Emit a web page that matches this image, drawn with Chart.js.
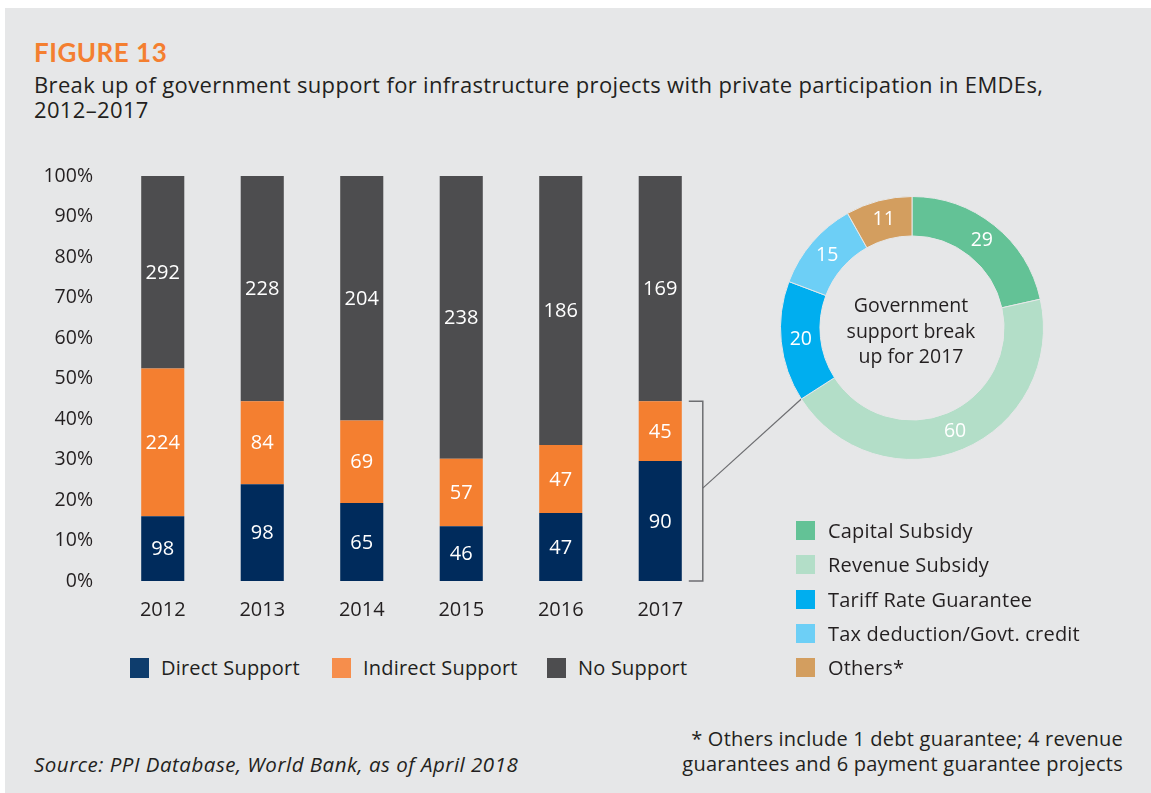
<!DOCTYPE html>
<html>
<head>
<meta charset="utf-8">
<script src="https://cdn.jsdelivr.net/npm/chart.js@4"></script>
<style>
  html, body { margin: 0; padding: 0; background: #fff; }
  body { width: 1151px; height: 793px; position: relative; overflow: hidden; font-family: "Open Sans", Lato, sans-serif; color: #231f20; }
  #panel { position: absolute; left: 5px; top: 8px; width: 1146px; height: 785px; background: #e6e7e8; }
  .abs { position: absolute; white-space: nowrap; }
  #fig { left: 34px; top: 36px; font-family: Lato, sans-serif; font-size: 26px; font-weight: 700; color: #f47f30; letter-spacing: 0.5px; }
  #sub { left: 34px; top: 72px; font-size: 22px; line-height: 25px; letter-spacing: 0.35px; }
  #barCanvas { position: absolute; left: 0; top: 140px; }
  #donutCanvas { position: absolute; left: 780px; top: 196px; }
  #center { left: 811px; top: 292px; width: 200px; text-align: center; font-size: 19.5px; line-height: 25.5px; }
  .leg { position: absolute; font-size: 20px; line-height: 20px; letter-spacing: 0.2px; }
  .leg i { position: absolute; left: 0; top: 0; width: 19px; height: 20px; }
  .leg span { position: absolute; white-space: nowrap; }
  #src { left: 34px; top: 750px; font-size: 20.5px; font-style: italic; letter-spacing: 0.5px; }
  #note { right: 28px; top: 726px; font-size: 20px; line-height: 25px; text-align: right; letter-spacing: 0.23px; }
</style>
</head>
<body>
<div id="panel"></div>
<div class="abs" id="fig">FIGURE 13</div>
<div class="abs" id="sub">Break up of government support for infrastructure projects with private participation in EMDEs,<br>2012–2017</div>
<canvas id="barCanvas" width="830" height="491"></canvas>
<canvas id="donutCanvas" width="264" height="264"></canvas>
<div class="abs" id="center">Government<br>support break<br>up for 2017</div>
<div id="barLegend"></div>
<div id="donutLegend"></div>
<div class="abs" id="src">Source: PPI Database, World Bank, as of April 2018</div>
<div class="abs" id="note">* Others include 1 debt guarantee; 4 revenue<br>guarantees and 6 payment guarantee projects</div>

<script>
// ─── DATA ────────────────────────────────────────────────
const years = ['2012', '2013', '2014', '2015', '2016', '2017'];
const directSupport   = [98, 98, 65, 46, 47, 90];
const indirectSupport = [224, 84, 69, 57, 47, 45];
const noSupport       = [292, 228, 204, 238, 186, 169];
const yTicks = [0, 10, 20, 30, 40, 50, 60, 70, 80, 90, 100];

const supportTypes = ['Capital Subsidy', 'Revenue Subsidy', 'Tariff Rate Guarantee', 'Tax deduction/Govt. credit', 'Others*'];
const support2017  = [29, 60, 20, 15, 11];

// ─── STYLE ───────────────────────────────────────────────
const barColors   = ['#002b5c', '#f47f30', '#4d4d4f'];
const barLegendColors = ['#0e3d6d', '#f68e4c', '#4d4d4f'];
const donutColors = ['#63c296', '#b3dec8', '#00aeef', '#6dcff6', '#d39e5f'];
const txt = '#231f20';
const font = '"Open Sans", Lato, sans-serif';

// share of each year's total, so every bar stacks to 100%
const totals = years.map((_, i) => directSupport[i] + indirectSupport[i] + noSupport[i]);
const share = arr => arr.map((v, i) => v / totals[i] * 100);
const counts = [directSupport, indirectSupport, noSupport];

// ─── DONUT ───────────────────────────────────────────────
const donutLabels = {
  id: 'donutLabels',
  afterDatasetsDraw(chart) {
    const ctx = chart.ctx;
    ctx.save();
    ctx.fillStyle = '#fff';
    ctx.font = '19.5px ' + font;
    ctx.textAlign = 'center';
    ctx.textBaseline = 'middle';
    chart.getDatasetMeta(0).data.forEach((arc, i) => {
      const p = arc.tooltipPosition();
      ctx.fillText(String(support2017[i]), p.x, p.y);
    });
    ctx.restore();
  }
};

const donut = new Chart(document.getElementById('donutCanvas'), {
  type: 'doughnut',
  data: {
    labels: supportTypes,
    datasets: [{
      data: support2017,
      backgroundColor: donutColors,
      borderColor: '#e6e7e8',
      borderWidth: 1
    }]
  },
  options: {
    responsive: false,
    animation: false,
    cutout: '70%',
    plugins: { legend: { display: false }, tooltip: { enabled: false } }
  },
  plugins: [donutLabels]
});

// ─── BAR ─────────────────────────────────────────────────
const barExtras = {
  id: 'barExtras',
  afterDatasetsDraw(chart) {
    const ctx = chart.ctx;
    ctx.save();
    // value labels inside the segments
    ctx.fillStyle = '#fff';
    ctx.font = '20px ' + font;
    ctx.textAlign = 'center';
    ctx.textBaseline = 'middle';
    chart.data.datasets.forEach((ds, d) => {
      chart.getDatasetMeta(d).data.forEach((bar, i) => {
        ctx.fillText(String(counts[d][i]), bar.x, (bar.y + bar.base) / 2 + 1);
      });
    });

    // bracket round the supported part of 2017
    const last = years.length - 1;
    const top = chart.getDatasetMeta(1).data[last];
    const bot = chart.getDatasetMeta(0).data[last];
    const x0 = top.x + top.width / 2 + 7, x1 = x0 + 14;
    const yTop = top.y, yBot = bot.base;
    ctx.strokeStyle = '#6d6e71';
    ctx.lineWidth = 1.5;
    ctx.beginPath();
    ctx.moveTo(x0, yTop); ctx.lineTo(x1, yTop); ctx.lineTo(x1, yBot); ctx.lineTo(x0, yBot);
    ctx.stroke();

    // connector to the donut (edge between revenue subsidy and tariff guarantee)
    const arc = donut.getDatasetMeta(0).data[1];
    const dc = document.getElementById('donutCanvas');
    const bc = chart.canvas;
    const ex = dc.offsetLeft - bc.offsetLeft + arc.x + Math.cos(arc.endAngle) * arc.outerRadius;
    const ey = dc.offsetTop - bc.offsetTop + arc.y + Math.sin(arc.endAngle) * arc.outerRadius;
    ctx.lineWidth = 1.2;
    ctx.beginPath();
    ctx.moveTo(x1, (yTop + yBot) / 2 - 3);
    ctx.lineTo(ex, ey);
    ctx.stroke();
    ctx.restore();
  }
};

new Chart(document.getElementById('barCanvas'), {
  type: 'bar',
  data: {
    labels: years,
    datasets: [
      { label: 'Direct Support',   data: share(directSupport),   backgroundColor: barColors[0] },
      { label: 'Indirect Support', data: share(indirectSupport), backgroundColor: barColors[1] },
      { label: 'No Support',       data: share(noSupport),       backgroundColor: barColors[2] }
    ]
  },
  options: {
    responsive: false,
    animation: false,
    layout: { padding: { top: 36, left: 0, right: 120, bottom: 0 } },
    datasets: { bar: { barPercentage: 0.433, categoryPercentage: 1 } },
    scales: {
      x: {
        stacked: true,
        grid: { display: false, drawTicks: false },
        border: { display: false },
        ticks: { color: txt, font: { family: font, size: 20 }, padding: 17 },
        afterFit: s => { s.height = 50; }
      },
      y: {
        stacked: true,
        min: 0, max: 100,
        afterBuildTicks: s => { s.ticks = yTicks.map(v => ({ value: v })); },
        grid: { display: false, drawTicks: false },
        border: { display: false },
        ticks: { color: txt, font: { family: font, size: 19.5 }, padding: 20, callback: v => v + '%' },
        afterFit: s => { s.width = 113; }
      }
    },
    plugins: { legend: { display: false }, tooltip: { enabled: false } }
  },
  plugins: [barExtras]
});

// ─── LEGENDS ─────────────────────────────────────────────
const barLegend = document.getElementById('barLegend');
const barLegendX = [130, 332, 547];
['Direct Support', 'Indirect Support', 'No Support'].forEach((name, i) => {
  barLegend.innerHTML += `<div class="leg" style="left:${barLegendX[i]}px;top:658px">
    <i style="background:${barLegendColors[i]}"></i><span style="left:31px;top:0">${name}</span></div>`;
});

const donutLegend = document.getElementById('donutLegend');
supportTypes.forEach((name, i) => {
  donutLegend.innerHTML += `<div class="leg" style="left:796px;top:${521 + i * 34.3}px">
    <i style="background:${donutColors[i]};height:19px"></i><span style="left:32px;top:0">${name}</span></div>`;
});
</script>
</body>
</html>
